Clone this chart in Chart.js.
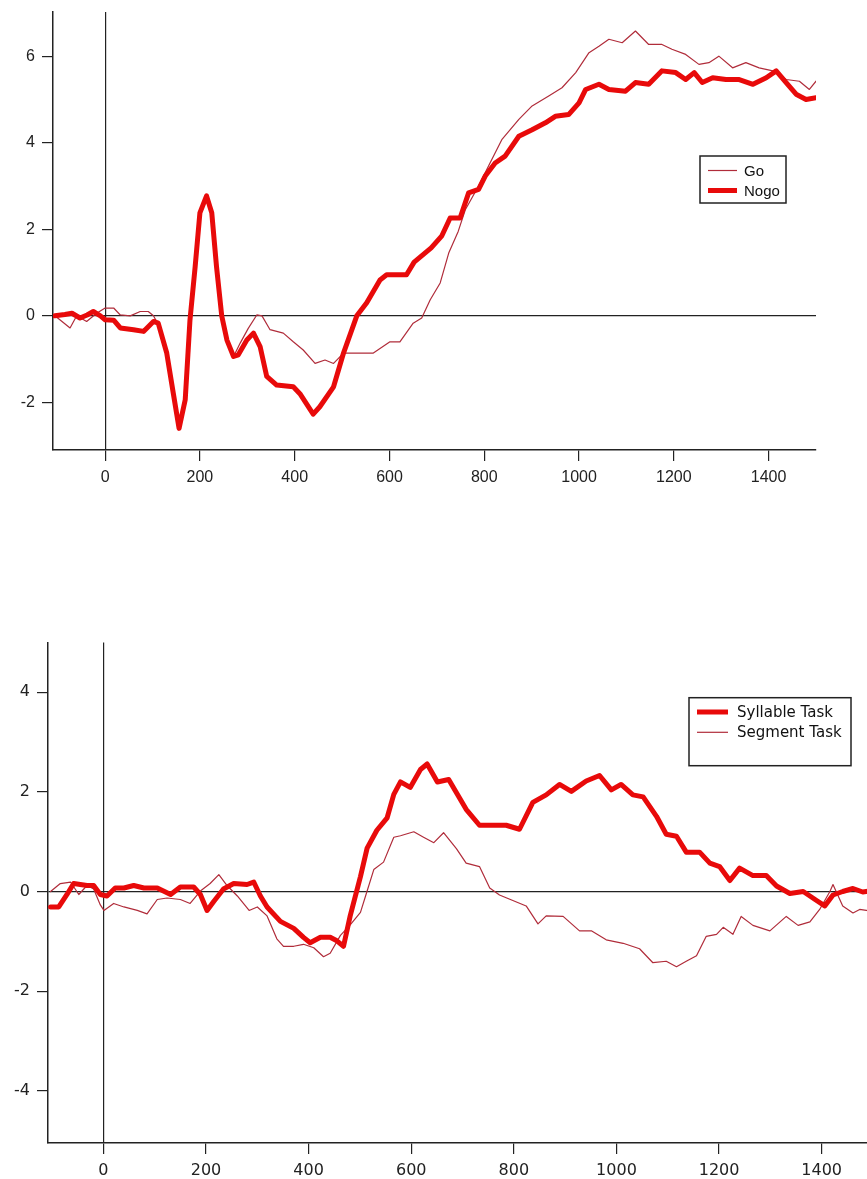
<!DOCTYPE html>
<html>
<head>
<meta charset="utf-8">
<script src="https://cdn.jsdelivr.net/npm/chart.js@4.4.1/dist/chart.umd.min.js"></script>
<style>
  html, body { margin: 0; padding: 0; background: #fff; overflow: hidden; width: 867px; height: 1179px; }
  canvas { position: absolute; left: 0; }
  #top { top: 0; }
  #bottom { top: 600px; }
</style>
</head>
<body>
<canvas id="top" width="867" height="500"></canvas>
<canvas id="bottom" width="900" height="600"></canvas>
<script>
// ---- top panel: Go / Nogo (time in ms, amplitude) ----
const goTime = [
  -106, -74, -60, -39, -18, 0, 18, 32, 53, 74,
  91, 102, 112, 130, 144, 156, 169, 179, 190, 200,
  214, 225, 235, 246, 257, 271, 285, 302, 320, 331,
  348, 376, 397, 418, 443, 464, 482, 503, 524, 566,
  601, 622, 650, 668, 686, 707, 725, 745, 760, 788,
  809, 837, 873, 901, 936, 964, 993, 1021, 1042, 1063,
  1091, 1119, 1147, 1175, 1196, 1225, 1253, 1274, 1295, 1324,
  1352, 1380, 1409, 1437, 1465, 1486, 1500
];
const goValues = [
  0, -0.28, 0, -0.13, 0.06, 0.18, 0.18, 0.02, 0, 0.1,
  0.1, 0, -0.2, -0.86, -1.8, -2.6, -1.94, -0.1, 1.14, 2.38,
  2.75, 2.38, 1.14, 0, -0.56, -0.94, -0.63, -0.29, 0.02, 0,
  -0.32, -0.4, -0.6, -0.79, -1.1, -1.02, -1.1, -0.86, -0.86, -0.86,
  -0.6, -0.6, -0.17, -0.05, 0.37, 0.76, 1.45, 1.95, 2.45, 3.0,
  3.46, 4.07, 4.54, 4.85, 5.08, 5.27, 5.62, 6.08, 6.23, 6.39,
  6.31, 6.58, 6.27, 6.27, 6.16, 6.04, 5.81, 5.85, 6.0, 5.73,
  5.85, 5.73, 5.66, 5.46, 5.42, 5.23, 5.42
];
const nogoTime = [
  -106, -85, -70, -53, -38, -25, -10, 0, 18, 32,
  60, 81, 102, 112, 130, 144, 156, 169, 179, 190,
  200, 214, 225, 235, 246, 257, 271, 281, 299, 313,
  327, 341, 362, 397, 411, 439, 453, 482, 503, 531,
  552, 580, 594, 636, 652, 688, 710, 728, 749, 767,
  788, 802, 823, 844, 873, 901, 929, 950, 978, 1000,
  1014, 1042, 1063, 1098, 1119, 1147, 1175, 1204, 1225, 1243,
  1260, 1282, 1310, 1338, 1367, 1395, 1416, 1437, 1458, 1479,
  1500
];
const nogoValues = [
  0, 0.03, 0.06, -0.05, 0.02, 0.1, 0, -0.09, -0.1, -0.28,
  -0.32, -0.36, -0.13, -0.17, -0.86, -1.8, -2.6, -1.94, -0.1, 1.14,
  2.38, 2.77, 2.38, 1.14, 0, -0.56, -0.94, -0.9, -0.56, -0.4,
  -0.71, -1.4, -1.6, -1.64, -1.8, -2.27, -2.1, -1.64, -0.86, 0,
  0.3, 0.83, 0.95, 0.95, 1.24, 1.57, 1.84, 2.26, 2.26, 2.84,
  2.92, 3.23, 3.53, 3.69, 4.15, 4.3, 4.46, 4.61, 4.65, 4.92,
  5.23, 5.35, 5.23, 5.19, 5.39, 5.35, 5.66, 5.62, 5.46, 5.62,
  5.39, 5.5, 5.46, 5.46, 5.35, 5.5, 5.66, 5.39, 5.12, 5.0,
  5.04
];

// ---- bottom panel: Syllable / Segment task ----
const syllableTime = [
  -103, -87, -71, -58, -32, -19, -6, 7, 23, 40,
  59, 79, 105, 131, 150, 176, 189, 202, 215, 234,
  254, 280, 293, 306, 319, 345, 371, 390, 403, 423,
  442, 455, 468, 481, 501, 514, 533, 553, 566, 579,
  598, 618, 631, 651, 673, 707, 733, 759, 785, 811,
  837, 863, 889, 912, 941, 967, 990, 1009, 1032, 1052,
  1078, 1097, 1117, 1136, 1162, 1182, 1201, 1221, 1240, 1266,
  1292, 1312, 1338, 1364, 1390, 1406, 1422, 1441, 1461, 1480,
  1500
];
const syllableValues = [
  -0.31, -0.31, -0.06, 0.16, 0.12, 0.12, -0.06, -0.09, 0.07, 0.07,
  0.12, 0.07, 0.07, -0.06, 0.09, 0.09, -0.06, -0.38, -0.2, 0.05,
  0.16, 0.14, 0.19, -0.09, -0.31, -0.6, -0.74, -0.92, -1.03, -0.92,
  -0.92, -0.99, -1.1, -0.49, 0.3, 0.87, 1.23, 1.48, 1.95, 2.2,
  2.09, 2.45, 2.56, 2.2, 2.25, 1.65, 1.33, 1.33, 1.33, 1.25,
  1.79, 1.94, 2.15, 2.01, 2.22, 2.33, 2.04, 2.15, 1.94, 1.9,
  1.51, 1.15, 1.11, 0.79, 0.79, 0.57, 0.5, 0.22, 0.47, 0.32,
  0.32, 0.11, -0.04, 0, -0.18, -0.29, -0.07, 0, 0.06, -0.01,
  0.02
];
const segmentTime = [
  -103, -84, -64, -48, -32, -19, -6, 1, 20, 40,
  66, 85, 105, 124, 150, 169, 189, 208, 225, 241,
  261, 284, 300, 319, 338, 351, 371, 390, 410, 429,
  442, 462, 481, 501, 514, 527, 546, 566, 579, 605,
  624, 644, 663, 688, 707, 733, 753, 772, 798, 824,
  847, 863, 896, 928, 951, 980, 1013, 1045, 1071, 1097,
  1117, 1136, 1156, 1175, 1195, 1208, 1227, 1243, 1266, 1299,
  1331, 1354, 1377, 1396, 1416, 1422, 1441, 1461, 1474, 1500
];
const segmentValues = [
  0.0, 0.16, 0.19, -0.06, 0.12, 0.05, -0.27, -0.38, -0.24, -0.31,
  -0.38, -0.45, -0.16, -0.13, -0.16, -0.24, 0.01, 0.16, 0.34, 0.12,
  -0.09, -0.38, -0.31, -0.49, -0.95, -1.1, -1.1, -1.06, -1.13, -1.31,
  -1.24, -0.88, -0.67, -0.42, 0.01, 0.44, 0.59, 1.09, 1.12, 1.2,
  1.09, 0.98, 1.18, 0.86, 0.57, 0.5, 0.07, -0.07, -0.18, -0.29,
  -0.65, -0.49, -0.5, -0.79, -0.79, -0.97, -1.04, -1.15, -1.43, -1.4,
  -1.51, -1.4, -1.29, -0.9, -0.86, -0.72, -0.86, -0.5, -0.68, -0.79,
  -0.5, -0.68, -0.61, -0.36, 0, 0.14, -0.29, -0.43, -0.36, -0.4
];

const timeTicks = [0, 200, 400, 600, 800, 1000, 1200, 1400];
const topYTicks = [-2, 0, 2, 4, 6];
const bottomYTicks = [-4, -2, 0, 2, 4];

const THICK = 'rgb(232,10,10)';
const THIN = 'rgb(176,44,58)';
const INK = '#222';

function pts(t, v) {
  const n = Math.min(t.length, v.length);
  const out = [];
  for (let i = 0; i < n; i++) out.push({ x: t[i], y: v[i] });
  return out;
}

function line(label, t, v, color, width, order) {
  return {
    label: label,
    data: pts(t, v),
    borderColor: color,
    backgroundColor: color,
    borderWidth: width,
    pointRadius: 0,
    tension: 0,
    borderJoinStyle: 'round',
    borderCapStyle: 'round',
    order: order
  };
}

// legend drawn as a boxed key inside the plot, like the original figure
const boxLegend = {
  id: 'boxLegend',
  afterDraw(chart, args, opts) {
    if (!opts || !opts.items) return;
    const ctx = chart.ctx;
    ctx.save();
    ctx.fillStyle = '#fff';
    ctx.fillRect(opts.x, opts.y, opts.w, opts.h);
    ctx.strokeStyle = INK;
    ctx.lineWidth = 1.5;
    ctx.strokeRect(opts.x, opts.y, opts.w, opts.h);
    ctx.font = opts.font;
    ctx.textBaseline = 'middle';
    opts.items.forEach(it => {
      ctx.strokeStyle = it.color;
      ctx.lineWidth = it.width;
      ctx.lineCap = 'butt';
      ctx.beginPath();
      ctx.moveTo(opts.lineX0, it.y);
      ctx.lineTo(opts.lineX1, it.y);
      ctx.stroke();
      ctx.fillStyle = '#111';
      ctx.fillText(it.label, opts.textX, it.y + 1);
    });
    ctx.restore();
  }
};

function scales(xmin, xmax, ymin, ymax, xTicks, yTicks, font, yWidth, xHeight) {
  const zeroGrid = c => (c.tick && c.tick.value === 0) ? INK : 'rgba(0,0,0,0)';
  return {
    x: {
      type: 'linear', min: xmin, max: xmax,
      afterBuildTicks: s => { s.ticks = xTicks.map(v => ({ value: v })); },
      afterFit: s => { s.height = xHeight; },
      border: { display: true, color: INK, width: 1.5 },
      grid: { color: zeroGrid, tickColor: INK, tickLength: 11, lineWidth: 1.2, drawOnChartArea: true },
      ticks: { color: INK, font: font, padding: 7, maxRotation: 0, callback: v => String(v) }
    },
    y: {
      type: 'linear', min: ymin, max: ymax,
      afterBuildTicks: s => { s.ticks = yTicks.map(v => ({ value: v })); },
      afterFit: s => { s.width = yWidth; s.paddingTop = 0; s.paddingBottom = 0; },
      border: { display: true, color: INK, width: 1.5 },
      grid: { color: zeroGrid, tickColor: INK, tickLength: 11, lineWidth: 1.2, drawOnChartArea: true },
      ticks: { color: INK, font: font, padding: 7, callback: v => String(v) }
    }
  };
}

new Chart(document.getElementById('top').getContext('2d'), {
  type: 'line',
  data: {
    datasets: [
      line('Go', goTime, goValues, THIN, 1.2, 2),
      line('Nogo', nogoTime, nogoValues, THICK, 5, 1)
    ]
  },
  options: {
    responsive: false,
    animation: false,
    devicePixelRatio: 1,
    layout: { padding: { top: 12, right: 51, left: 0, bottom: 0 } },
    scales: scales(-110, 1500, -3.1, 7.02, timeTicks, topYTicks,
      { family: "'Liberation Sans', Arial, sans-serif", size: 16 }, 53, 50),
    plugins: {
      legend: { display: false },
      tooltip: { enabled: false },
      boxLegend: {
        x: 700, y: 156, w: 86, h: 47,
        lineX0: 708, lineX1: 737, textX: 744,
        font: "15px 'Liberation Sans Narrow', 'Arial Narrow', 'Liberation Sans', sans-serif",
        items: [
          { label: 'Go', color: THIN, width: 1.2, y: 170.5 },
          { label: 'Nogo', color: THICK, width: 5, y: 190.5 }
        ]
      }
    }
  },
  plugins: [boxLegend]
});

new Chart(document.getElementById('bottom').getContext('2d'), {
  type: 'line',
  data: {
    datasets: [
      line('Syllable Task', syllableTime, syllableValues, THICK, 5, 1),
      line('Segment Task', segmentTime, segmentValues, THIN, 1.2, 2)
    ]
  },
  options: {
    responsive: false,
    animation: false,
    devicePixelRatio: 1,
    layout: { padding: { top: 42.5, right: 27, left: 0, bottom: 0 } },
    scales: scales(-108, 1500, -5.05, 5, timeTicks, bottomYTicks,
      { family: "'DejaVu Sans', Verdana, sans-serif", size: 16 }, 48, 57),
    plugins: {
      legend: { display: false },
      tooltip: { enabled: false },
      boxLegend: {
        x: 689, y: 97.7, w: 162, h: 68,
        lineX0: 697, lineX1: 728, textX: 737,
        font: "15px 'DejaVu Sans', Verdana, sans-serif",
        items: [
          { label: 'Syllable Task', color: THICK, width: 5, y: 112 },
          { label: 'Segment Task', color: THIN, width: 1.2, y: 132.3 }
        ]
      }
    }
  },
  plugins: [boxLegend]
});
</script>
</body>
</html>
